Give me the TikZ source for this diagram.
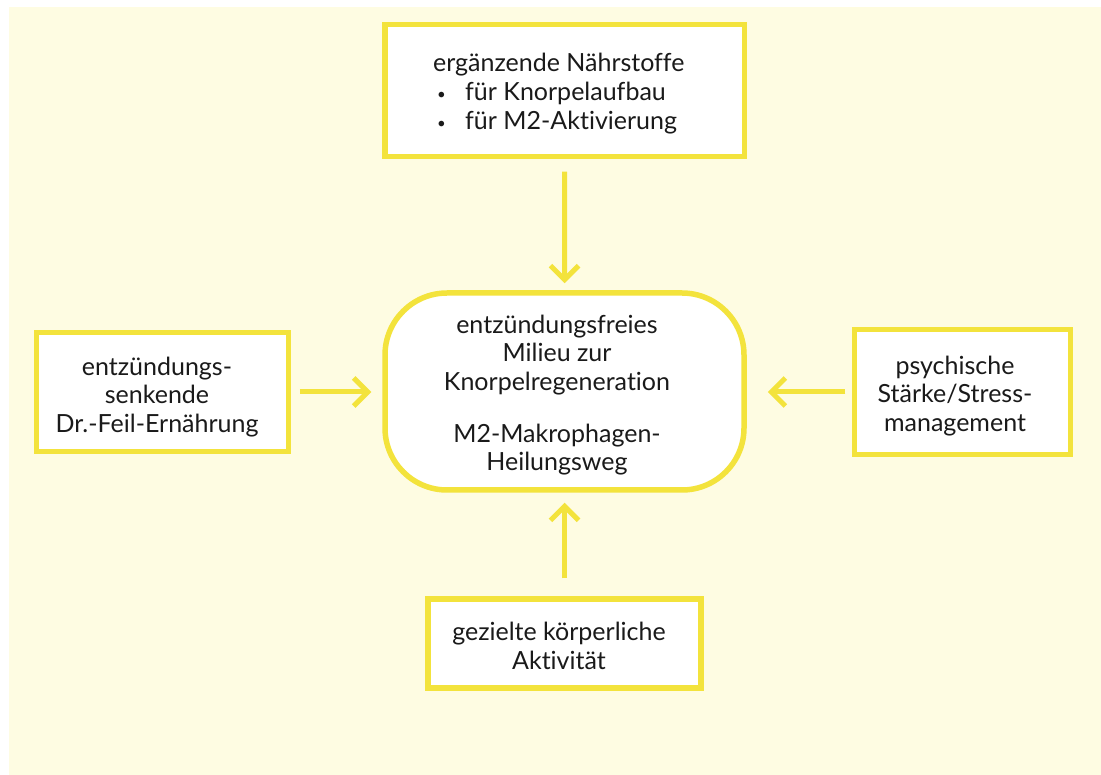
\documentclass[tikz,border=0pt]{standalone}
\usepackage{fontspec}
\setmainfont{Lato}[Ligatures={NoCommon}]
\usetikzlibrary{arrows.meta}
\definecolor{bgc}{HTML}{FEFCE2}
\definecolor{ylw}{HTML}{F3E33C}
\definecolor{txt}{HTML}{1A1A1A}
\newcommand{\smbullet}{\makebox[32pt][l]{\hspace{4pt}\raisebox{1pt}{\fontsize{15}{15}\selectfont\textbullet}}}
\tikzset{
  box/.style={draw=ylw, fill=white, line width=5.5pt, inner sep=0pt, rectangle},
  lbl/.style={text=txt, font=\fontsize{25}{28.5}\selectfont, align=center, inner sep=0pt},
  conn/.style={draw=ylw, line width=5pt, -{Straight Barb[length=14pt,width=28pt]}}
}
\begin{document}
\begin{tikzpicture}[x=1pt,y=-1pt]
\useasboundingbox (0,0) rectangle (1101,775);
\fill[bgc] (9,7) rectangle (1101,775);
% boxes
\node[box, minimum width=359.5pt, minimum height=132pt] (top) at (564.7,90.5) {};
\node[box, rounded corners=62pt, minimum width=359pt, minimum height=197pt] (mid) at (564.5,391.5) {};
\node[box, minimum width=252pt, minimum height=119pt] (left) at (162.5,392) {};
\node[box, minimum width=216pt, minimum height=125pt] (right) at (962.5,392) {};
\node[box, minimum width=273pt, minimum height=89pt] (bot) at (564.5,643.5) {};
% texts
\node[lbl, font=\fontsize{25}{29}\selectfont, align=left, anchor=west] (toptext) at (433,93.5) {erg\"anzende N\"ahrstoffe\\\smbullet f\"ur Knorpelaufbau\\\smbullet f\"ur M2-Aktivierung};
\node[lbl] (midtext) at (557,395) {entz\"undungsfreies\\Milieu zur\\Knorpelregeneration\\[23.5pt]M2-Makrophagen-\\Heilungsweg};
\node[lbl] (lefttext) at (157,397) {entz\"undungs-\\senkende\\Dr.-Feil-Ern\"ahrung};
\node[lbl] (righttext) at (955,396) {psychische\\St\"arke/Stress-\\management};
\node[lbl] (bottext) at (559,646) {gezielte k\"orperliche\\Aktivit\"at};
% connectors
\draw[conn, shorten <=12.5pt, shorten >=7pt] (top.south) -- (mid.north);
\draw[conn, shorten <=8.5pt, shorten >=11pt] (left.east) -- (left.east -| mid.west);
\draw[conn, shorten <=6.5pt, shorten >=21pt] (right.west) -- (right.west -| mid.east);
\draw[conn, shorten <=18pt, shorten >=10pt] (bot.north) -- (mid.south);
\end{tikzpicture}
\end{document}
